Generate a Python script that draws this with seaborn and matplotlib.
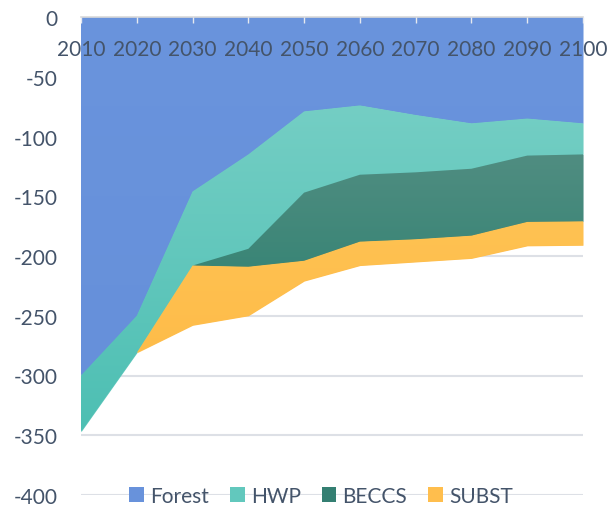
import numpy as np
import pandas as pd
import matplotlib
matplotlib.use("Agg")
import matplotlib.pyplot as plt
import seaborn as sns
from matplotlib.colors import LinearSegmentedColormap

years = [2010, 2020, 2030, 2040, 2050, 2060, 2070, 2080, 2090, 2100]
forest = [-300, -250, -146, -115, -79, -74, -82, -89, -85, -89]
hwp = [-47, -31, -62, -79, -68, -58, -48, -38, -31, -26]
beccs = [0, 0, 0, -15, -57, -56, -56, -56, -55.5, -56]
subst = [0, 0, -50, -41, -17, -20, -19, -19, -20, -20]
series = ["Forest", "HWP", "BECCS", "SUBST"]
yticks = [0, -50, -100, -150, -200, -250, -300, -350, -400]

df = pd.DataFrame({"year": years, "Forest": forest, "HWP": hwp,
                   "BECCS": beccs, "SUBST": subst})

sns.set_theme(style="white")
plt.rcParams["font.family"] = ["Lato", "DejaVu Sans"]
txt = "#44546A"

fig = plt.figure(figsize=(6.08, 5.10), dpi=100)
ax = fig.add_axes([81/608, 1-496/510, (583-81)/608, (496-18)/510])

solid = ["#6892DB", "#62C8BD", "#347F72", "#FFBE4D"]
grads = [("#6A94DD", "#6690DA"), ("#74CEC4", "#4DBFB3"),
         ("#508D81", "#1A7A67"), ("#FFC252", "#FDB945")]

polys = ax.stackplot(df["year"], *[df[s] for s in series],
                     colors=solid, labels=series, linewidth=0, zorder=2)
grad = np.linspace(0, 1, 256).reshape(-1, 1)
for poly, (ctop, cbot) in zip(polys, grads):
    verts = poly.get_paths()[0].vertices
    ymin, ymax = verts[:, 1].min(), verts[:, 1].max()
    cmap = LinearSegmentedColormap.from_list("g", [cbot, ctop])
    im = ax.imshow(grad, extent=[2010, 2100, ymin, ymax], origin="lower",
                   cmap=cmap, aspect="auto", zorder=2.5, interpolation="bilinear")
    im.set_clip_path(poly.get_paths()[0], poly.get_transform())

ax.set_xlim(2010, 2100)
ax.set_ylim(-400, 0)
ax.set_yticks(yticks)
ax.set_yticklabels([str(v) for v in yticks])
ax.set_xticks(years)
ax.set_xticklabels([str(y) for y in years])
ax.set_axisbelow(True)
ax.yaxis.grid(True, color="#DDE0E6", linewidth=1.5)
ax.xaxis.grid(False)
for s in ["left", "right", "bottom"]:
    ax.spines[s].set_visible(False)
ax.spines["top"].set_color("#D9D9D9")
ax.spines["top"].set_linewidth(1.2)
ax.spines["top"].set_zorder(5)

ax.xaxis.tick_top()
ax.tick_params(axis="x", top=True, bottom=False, labeltop=True, labelbottom=False,
               direction="in", length=4.5, width=1, color="#E6E9EF",
               pad=-30, labelsize=15, labelcolor=txt)
ax.xaxis.set_zorder(10)
ax.tick_params(axis="y", left=False, length=0, pad=17, labelsize=15, labelcolor=txt)

fig.legend(polys, series, loc="center", bbox_to_anchor=(321/608, 1-497/510),
           ncol=4, frameon=False, fontsize=15, labelcolor=txt,
           handlelength=0.7, handleheight=0.7, handletextpad=0.3,
           columnspacing=1.0, borderaxespad=0)

fig.savefig("out.png", dpi=100)
